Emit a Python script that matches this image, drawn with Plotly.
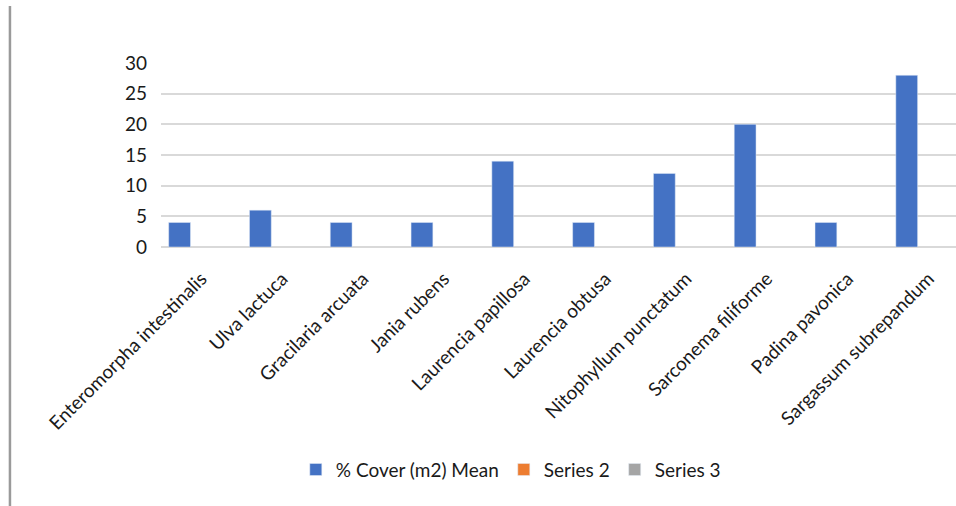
import plotly.graph_objects as go

categories = ["Enteromorpha intestinalis", "Ulva lactuca", "Gracilaria arcuata", "Jania rubens",
              "Laurencia papillosa", "Laurencia obtusa", "Nitophyllum punctatum",
              "Sarconema filiforme", "Padina pavonica", "Sargassum subrepandum"]
cover_mean = [4, 6, 4, 4, 14, 4, 12, 20, 4, 28]
series2 = [None] * 10
series3 = [None] * 10
y_ticks = [0, 5, 10, 15, 20, 25, 30]

FONT = "Lato"
TXT = "#1a1a1a"
fig = go.Figure()
fig.add_trace(go.Bar(x=categories, y=cover_mean, name="% Cover (m2) Mean", marker_color="#4472C4"))
fig.add_trace(go.Bar(x=categories, y=series2, name="Series 2", marker_color="#ED7D31"))
fig.add_trace(go.Bar(x=categories, y=series3, name="Series 3", marker_color="#A5A5A5"))

fig.update_layout(
    width=956, height=506,
    margin=dict(l=161, r=0, t=63, b=259, autoexpand=False),
    barmode="group", bargap=0.19, bargroupgap=0,
    plot_bgcolor="white", paper_bgcolor="white",
    font=dict(family=FONT, size=19, color=TXT),
    showlegend=True,
    legend=dict(orientation="h", x=0.44, xanchor="center", y=-1.21, yanchor="middle",
                font=dict(size=19, color=TXT), traceorder="normal",
                itemwidth=30),
    shapes=[dict(type="line", xref="paper", yref="paper", x0=-0.19, x1=-0.19,
                 y0=1.31, y1=-1.42, line=dict(color="#9a9a9a", width=2.5))],
)
fig.update_xaxes(type="category", range=[-0.5, 9.34], tickangle=-45, showgrid=False,
                 showline=False, ticks="", ticklabelstandoff=16,
                 tickfont=dict(size=19, color=TXT))
fig.update_yaxes(range=[0, 30], tickvals=y_ticks, showgrid=True, gridcolor="#d9d9d9", gridwidth=1.5,
                 zeroline=True, zerolinecolor="#d9d9d9", zerolinewidth=1.5, showline=False,
                 ticks="", ticklabelstandoff=13, tickfont=dict(size=19, color=TXT))

fig.write_html("out.html")
